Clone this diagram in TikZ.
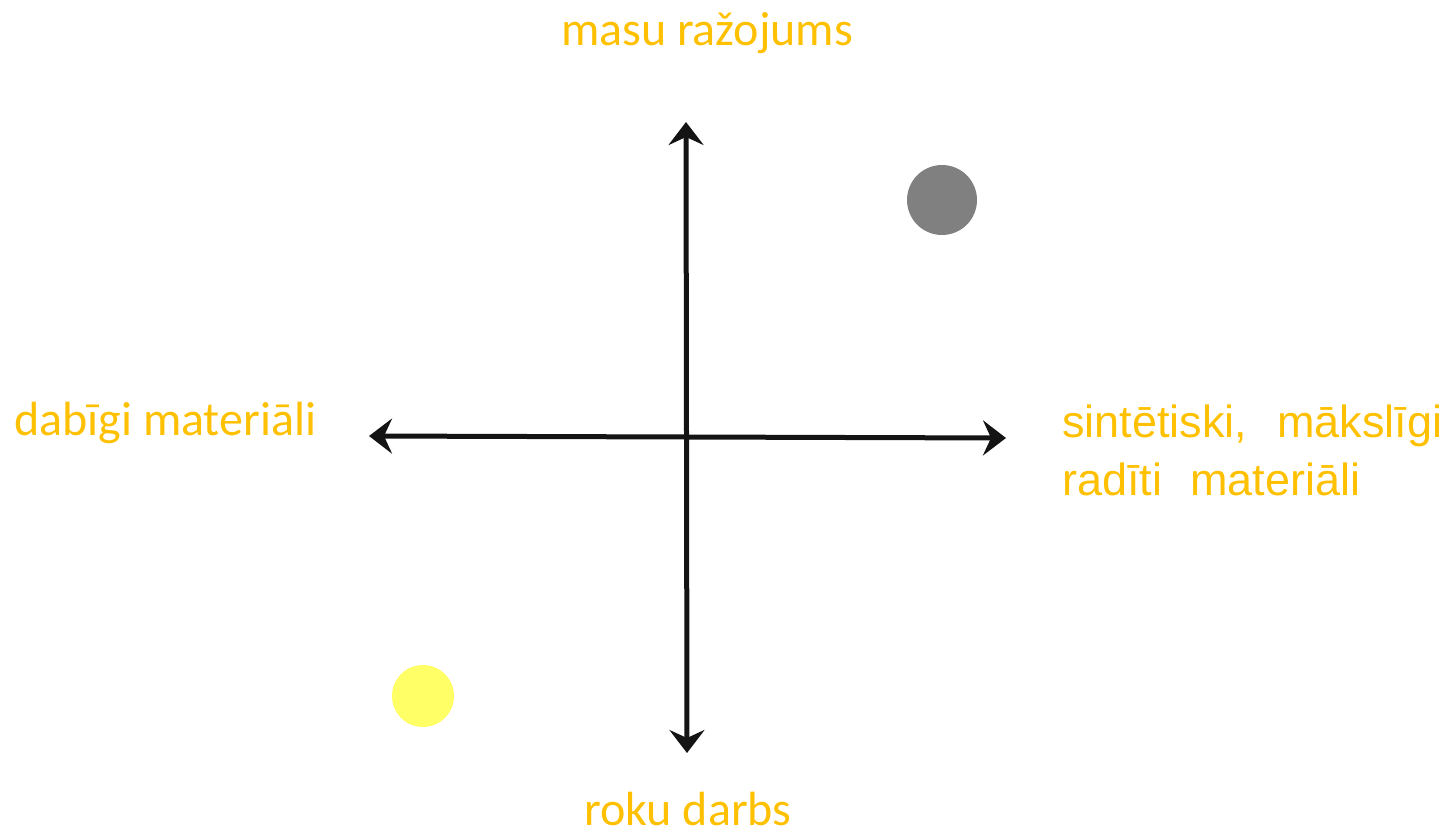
\documentclass[tikz,border=0pt]{standalone}
\usepackage{fontspec}
\setmainfont{Carlito}
\newfontfamily\arialf{Liberation Sans}
\usetikzlibrary{arrows.meta}
\definecolor{lblorange}{HTML}{FFC000}
\definecolor{dotyellow}{HTML}{FFFF66}
\definecolor{dotgray}{HTML}{808080}
\begin{document}
\begin{tikzpicture}[x=1pt,y=-1pt,
  axis/.style={line width=5pt,draw=black!92,{Stealth[length=23pt,width=35pt,inset=8pt]}-{Stealth[length=23pt,width=35pt,inset=8pt]}},
  lbl/.style={text=lblorange,font=\fontsize{48}{58}\selectfont,inner sep=0pt},
  rlbl/.style={text=lblorange,font=\arialf\fontsize{45}{58}\selectfont,inner sep=0pt,align=left},
  dot/.style={circle,inner sep=0pt,draw=none}]
\useasboundingbox (0,0) rectangle (1447,832);
\coordinate (top) at (686,122);
\coordinate (bot) at (687,753);
\coordinate (left) at (369,436);
\coordinate (right) at (1006,438);
\draw[axis] (bot) -- (top);
\draw[axis] (left) -- (right);
\node[lbl] (ltop) at (707,33) {masu ražojums};
\node[lbl] (lbot) at (688,809) {roku darbs};
\node[lbl,anchor=west] (lleft) at (14,423) {dabīgi materiāli};
\node[rlbl,anchor=west] (lright) at (1062,450) {sintētiski,\hspace{30pt}mākslīgi\\radīti\hspace{28pt}materiāli};
\node[dot,fill=dotgray,minimum size=70pt] (g) at (942,200) {};
\node[dot,fill=dotyellow,minimum size=62pt] (y) at (423,696) {};
\end{tikzpicture}
\end{document}
